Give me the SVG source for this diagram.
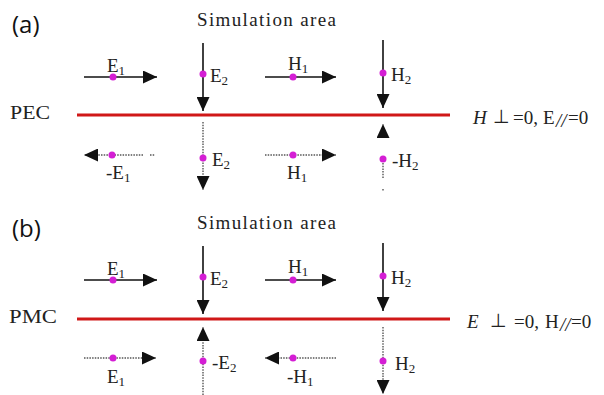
<svg xmlns="http://www.w3.org/2000/svg" width="604" height="395" viewBox="0 0 604 395">
<style>
.solid{stroke:#111;stroke-width:1.6;fill:none}
.dot{stroke:#555;stroke-width:1.4;stroke-dasharray:1.5 1.2;fill:none}
.wall{stroke:#d01818;stroke-width:3}
.pt{fill:#d41ed4}
.lbl{font-family:"Liberation Serif","Times New Roman",serif;font-size:19px;fill:#222}
.sub{font-size:13px}
.tag{font-family:"Open Sans","Liberation Sans",sans-serif;font-size:24px;fill:#111}
</style>
<defs>
<marker id="ah" markerUnits="userSpaceOnUse" markerWidth="15" markerHeight="13" refX="14" refY="6.5" orient="auto" viewBox="0 0 15 13">
<path d="M0,0 L14,6.5 L0,13 z" fill="#111"/>
</marker>
</defs>

<g id="panel-a">
<text class="tag" x="12" y="33">(a)</text>
<text class="lbl" x="197" y="26" font-size="18" textLength="139" lengthAdjust="spacing">Simulation area</text>
<text class="lbl" x="10" y="119" font-size="20" textLength="40" lengthAdjust="spacingAndGlyphs">PEC</text>
<text class="lbl" x="473" y="124" font-style="italic" font-size="20">H</text>
<text class="lbl" x="493" y="123" font-size="11">⊥</text>
<text class="lbl" x="513" y="124" font-size="20">=0,</text>
<text class="lbl" x="543" y="124" font-size="20">E</text>
<text class="lbl" x="556" y="127" font-size="13" font-style="italic">//</text>
<text class="lbl" x="568" y="124" font-size="20">=0</text>
</g>

<g id="panel-b">
<text class="tag" x="12" y="237">(b)</text>
<text class="lbl" x="197" y="229" font-size="18" textLength="139" lengthAdjust="spacing">Simulation area</text>
<text class="lbl" x="9" y="323" font-size="20" textLength="48" lengthAdjust="spacingAndGlyphs">PMC</text>
<text class="lbl" x="467" y="328" font-style="italic" font-size="20">E</text>
<text class="lbl" x="490" y="327" font-size="11">⊥</text>
<text class="lbl" x="514" y="328" font-size="20">=0,</text>
<text class="lbl" x="545" y="328" font-size="20">H</text>
<text class="lbl" x="560" y="331" font-size="13" font-style="italic">//</text>
<text class="lbl" x="571" y="328" font-size="20">=0</text>
</g>

<g id="connectors">
<line class="wall" x1="77" y1="115" x2="450" y2="115"/>
<line class="wall" x1="77" y1="319" x2="450" y2="319"/>
<line class="solid" x1="84" y1="77" x2="157" y2="77" marker-end="url(#ah)"/>
<line class="solid" x1="203" y1="43" x2="203" y2="111" marker-end="url(#ah)"/>
<line class="solid" x1="265" y1="77" x2="336" y2="77" marker-end="url(#ah)"/>
<line class="solid" x1="383" y1="40" x2="383" y2="108" marker-end="url(#ah)"/>
<line class="dot" x1="143" y1="155" x2="84" y2="155" marker-end="url(#ah)"/>
<line class="dot" x1="150" y1="155" x2="155" y2="155"/>
<line class="dot" x1="203" y1="122" x2="203" y2="190" marker-end="url(#ah)"/>
<line class="dot" x1="265" y1="155" x2="336" y2="155" marker-end="url(#ah)"/>
<line class="dot" x1="383" y1="138" x2="383" y2="124" marker-end="url(#ah)"/>
<line class="dot" x1="383" y1="163" x2="383" y2="178"/>
<line class="dot" x1="383" y1="189" x2="383" y2="191"/>
<line class="solid" x1="84" y1="280" x2="157" y2="280" marker-end="url(#ah)"/>
<line class="solid" x1="203" y1="246" x2="203" y2="314" marker-end="url(#ah)"/>
<line class="solid" x1="265" y1="280" x2="336" y2="280" marker-end="url(#ah)"/>
<line class="solid" x1="383" y1="243" x2="383" y2="311" marker-end="url(#ah)"/>
<line class="dot" x1="84" y1="358" x2="156" y2="358" marker-end="url(#ah)"/>
<line class="dot" x1="203" y1="395" x2="203" y2="327" marker-end="url(#ah)"/>
<line class="dot" x1="336" y1="358" x2="265" y2="358" marker-end="url(#ah)"/>
<line class="dot" x1="383" y1="327" x2="383" y2="394" marker-end="url(#ah)"/>
</g>

<g id="field-a-top">
<circle class="pt" cx="113" cy="77" r="3.5"/><text class="lbl" x="107" y="72">E<tspan class="sub" dy="3">1</tspan></text>
<circle class="pt" cx="203" cy="74" r="3.5"/><text class="lbl" x="210" y="82">E<tspan class="sub" dy="3">2</tspan></text>
<circle class="pt" cx="293" cy="77" r="3.5"/><text class="lbl" x="288" y="70">H<tspan class="sub" dy="3">1</tspan></text>
<circle class="pt" cx="383" cy="73" r="3.5"/><text class="lbl" x="391" y="81">H<tspan class="sub" dy="3">2</tspan></text>
</g>
<g id="field-a-bottom">
<circle class="pt" cx="112" cy="155" r="3.5"/><text class="lbl" x="106" y="179">-E<tspan class="sub" dy="3">1</tspan></text>
<circle class="pt" cx="203" cy="158" r="3.5"/><text class="lbl" x="212" y="166">E<tspan class="sub" dy="3">2</tspan></text>
<circle class="pt" cx="293" cy="155" r="3.5"/><text class="lbl" x="287" y="179">H<tspan class="sub" dy="3">1</tspan></text>
<circle class="pt" cx="383" cy="159" r="3.5"/><text class="lbl" x="392" y="167">-H<tspan class="sub" dy="3">2</tspan></text>
</g>
<g id="field-b-top">
<circle class="pt" cx="113" cy="280" r="3.5"/><text class="lbl" x="107" y="275">E<tspan class="sub" dy="3">1</tspan></text>
<circle class="pt" cx="203" cy="277" r="3.5"/><text class="lbl" x="210" y="285">E<tspan class="sub" dy="3">2</tspan></text>
<circle class="pt" cx="293" cy="280" r="3.5"/><text class="lbl" x="288" y="273">H<tspan class="sub" dy="3">1</tspan></text>
<circle class="pt" cx="383" cy="276" r="3.5"/><text class="lbl" x="391" y="284">H<tspan class="sub" dy="3">2</tspan></text>
</g>
<g id="field-b-bottom">
<circle class="pt" cx="113" cy="358" r="3.5"/><text class="lbl" x="107" y="383">E<tspan class="sub" dy="3">1</tspan></text>
<circle class="pt" cx="203" cy="361" r="3.5"/><text class="lbl" x="212" y="369">-E<tspan class="sub" dy="3">2</tspan></text>
<circle class="pt" cx="293" cy="358" r="3.5"/><text class="lbl" x="287" y="383">-H<tspan class="sub" dy="3">1</tspan></text>
<circle class="pt" cx="383" cy="361" r="3.5"/><text class="lbl" x="395" y="370">H<tspan class="sub" dy="3">2</tspan></text>
</g>
</svg>
